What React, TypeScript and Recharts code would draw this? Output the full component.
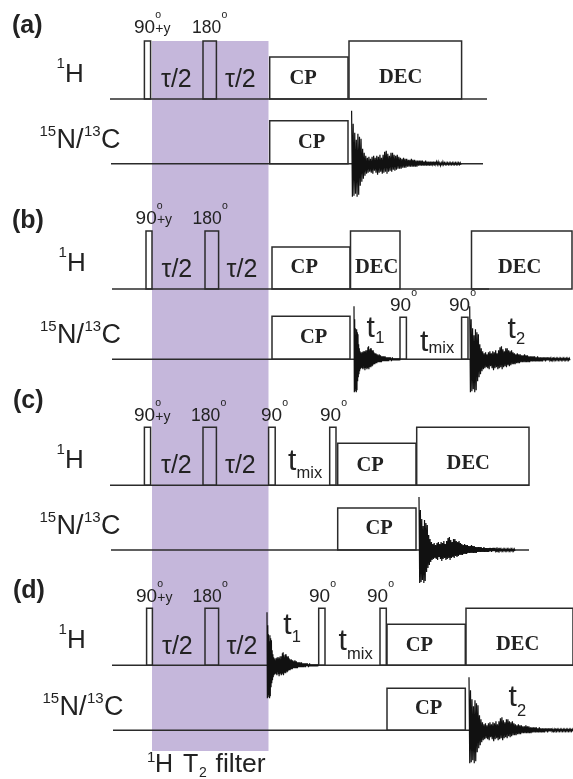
import React from 'react';
import { ComposedChart, Line, ReferenceArea, XAxis, YAxis } from 'recharts';

const WIDTH = 573;
const HEIGHT = 779;
const INK = '#2b2b2b';
const SANS = '"Liberation Sans", Arial, sans-serif';
const SERIF = '"Liberation Serif", "Times New Roman", serif';

// rows: (a) (b) (c) (d)
const panelLabels = ['(a)', '(b)', '(c)', '(d)'];
const hBaselines = [99, 289, 485.3, 665.3];
const nBaselines = [163.7, 359.3, 550, 730.3];
const hExtents = [[110, 487], [112, 489], [110, 529], [112, 573]];
const nExtents = [[111, 483], [112, 570], [111, 529], [113, 573]];

// [start, end, power]
const hPulses = [
  [[144.4, 150.6, 58], [203, 216.4, 58], [269.7, 348, 42], [349, 461.6, 58]],
  [[146, 152, 58], [205, 218.6, 58], [272, 350, 42], [350.5, 400, 58], [471.5, 572, 58]],
  [[144.4, 150.6, 58], [203, 216.4, 58], [268.6, 275.2, 58], [329.7, 336, 58], [337.7, 416, 42], [416.7, 529, 58]],
  [[146.6, 152.4, 57], [205, 218.6, 57], [318.7, 325, 57], [380, 386.3, 57], [387, 465.3, 41], [466, 573, 57]],
];
const nPulses = [
  [[269.7, 348, 43]],
  [[272, 350, 43], [400, 406.4, 42], [461.6, 468, 42]],
  [[337.7, 416, 42]],
  [[387, 465.3, 42]],
];

// filter window
const filterStart = 152;
const filterEnd = 268.5;
const filterTop = 41;
const filterBottom = 751;

// decay signal (a), deflection from the baseline
const fidSamples = [
  53, -33, 40, -32, 31, -30, 24, -33, 30, -31, 27, -22, 25, -18, 15, -15, 11, -12, 8, -10,
  6, -9, 7, -8, 5, -9, 7, -10, 8, -7, 6, -9, 8, -11, 7, -9, 9, -8, 6, -10,
  9, -9, 12, -8, 13, -10, 10, -8, 8, -7, 11, -8, 11, -6, 9, -7, 8, -6, 9, -5,
  7, -5, 6, -5, 5, -4, 6, -4, 5, -4, 5, -3, 4, -3, 4, -3, 5, -3, 4, -3,
  4, -3, 3, -3, 3, -2, 3, -2, 3, -2, 3, -2, 2, -2, 3, -2, 2, -2, 2, -2,
  2, -2, 2, -1, 2, -2, 2, -1, 2, -1, 2, -1, 1, -2, 1, -1, 2, -1, 1, -1,
  1, -1, 1, -1, 1, -1, 1, -1, 1, -1, 1, -1, 1, -1, 1, -1, 1, -1, 1, -1,
];

// [start, end, baseline]
const fidTraces = [
  [351.6, 461, 163.7],
  [354, 400, 359.3],
  [469.7, 570, 359.3],
  [419, 515, 550],
  [267, 318, 665.3],
  [469, 573, 730.3],
];

const tauLabels = [
  [161, 225, 87], [161.5, 226.6, 276.7], [161, 225, 473], [162, 226.6, 653.7],
];
// [text, x, baseline, phase x]
const flipLabels: [string, number, number, number?][] = [
  ['90', 134, 33, 155.3], ['180', 192, 33],
  ['90', 135.6, 224, 156.9], ['180', 192.6, 224], ['90', 390, 310.7], ['90', 449, 310.7],
  ['90', 134, 421, 155.3], ['180', 191, 421], ['90', 261, 421], ['90', 320, 421],
  ['90', 136, 601.7, 157.3], ['180', 192.6, 601.7], ['90', 309, 601.7], ['90', 367, 601.7],
];
const blockLabels = [
  ['CP', 289.5, 84], ['DEC', 379, 83], ['CP', 298, 148],
  ['CP', 290.6, 273], ['DEC', 355, 272.7], ['DEC', 498, 272.7], ['CP', 300, 343],
  ['CP', 356.4, 471], ['DEC', 446.6, 469], ['CP', 365.5, 534],
  ['CP', 405.7, 651], ['DEC', 496, 650], ['CP', 415, 714],
];
const hLabelPos = [[56.6, 81.7], [58.5, 270.7], [56.6, 467.7], [58.5, 647.7]];
const nLabelPos = [[39.5, 148], [40, 343.3], [39.5, 534], [42.4, 715]];
const panelLabelPos = [[12, 33], [12, 228], [13, 408], [13, 598]];
// [main x, main baseline, sub text, sub x, sub baseline]
const delayLabels: [number, number, string, number, number][] = [
  [366.6, 337, '1', 375.2, 343],
  [420, 350.7, 'mix', 428.6, 353],
  [507.5, 338, '2', 516.1, 344],
  [288, 470, 'mix', 296.6, 478],
  [283.2, 634.3, '1', 291.8, 641.7],
  [338.5, 650, 'mix', 347.1, 659],
  [508.5, 706, '2', 517.1, 715.7],
];

const fidLine = ([start, end, base]: number[]) =>
  fidSamples.map((v, i) => ({ x: start + (i * (end - start)) / (fidSamples.length - 1), y: base - v }));

const pulseBoxes = (pulses: number[][][], baselines: number[], prefix: string) =>
  pulses.flatMap((row, r) =>
    row.map(([start, end, power], i) => (
      <ReferenceArea
        key={`${prefix}-${r}-${i}`}
        x1={start}
        x2={end}
        y1={baselines[r] - power}
        y2={baselines[r]}
        fill="none"
        fillOpacity={0}
        stroke={INK}
        strokeWidth={1.5}
      />
    ))
  );

const channelLines = (extents: number[][], baselines: number[], prefix: string) =>
  extents.map(([from, to], r) => (
    <Line
      key={`${prefix}-${r}`}
      data={[{ x: from, y: baselines[r] }, { x: to, y: baselines[r] }]}
      dataKey="y"
      stroke={INK}
      strokeWidth={1.5}
      dot={false}
      activeDot={false}
      legendType="none"
      isAnimationActive={false}
    />
  ));

const Annotations = () => (
  <g fill="#222" fontFamily={SANS}>
    {panelLabels.map((t, i) => (
      <text key={t} x={panelLabelPos[i][0]} y={panelLabelPos[i][1]} fontSize={25} fontWeight="bold">{t}</text>
    ))}
    {hLabelPos.map(([x, y], i) => (
      <text key={`h${i}`} x={x} y={y - 14} fontSize={15}>
        1<tspan x={x + 8.5} y={y} fontSize={26}>H</tspan>
      </text>
    ))}
    {nLabelPos.map(([x, y], i) => (
      <text key={`n${i}`} x={x} y={y - 12} fontSize={15}>
        15
        <tspan x={x + 17} y={y} fontSize={27}>N/</tspan>
        <tspan x={x + 44.5} y={y - 12}>13</tspan>
        <tspan x={x + 61.5} y={y} fontSize={27}>C</tspan>
      </text>
    ))}
    {flipLabels.map(([t, x, y, phaseX], i) => (
      <text key={`f${i}`} x={x} y={y} fontSize={t === '90' ? 19 : 17.5}>
        {t}
        <tspan x={x + (t === '90' ? 21.2 : 29.4)} y={y - 15} fontSize={10.5}>o</tspan>
        {phaseX !== undefined && <tspan x={phaseX} y={y} fontSize={14}>+y</tspan>}
      </text>
    ))}
    {tauLabels.map(([a, b, y], i) => (
      <g key={`t${i}`} fontSize={25}>
        <text x={a} y={y}>τ/2</text>
        <text x={b} y={y}>τ/2</text>
      </g>
    ))}
    {blockLabels.map(([t, x, y], i) => (
      <text key={`b${i}`} x={x} y={y} fontSize={20.5} fontWeight="bold" fontFamily={SERIF}>{t}</text>
    ))}
    {delayLabels.map(([x, y, sub, sx, sy], i) => (
      <text key={`d${i}`} x={x} y={y} fontSize={30}>
        t<tspan x={sx} y={sy} fontSize={16.5}>{sub}</tspan>
      </text>
    ))}
    <text x={147} y={762} fontSize={15}>
      1
      <tspan x={155} y={772} fontSize={25}>H</tspan>
      <tspan x={183} y={772} fontSize={25}>T</tspan>
      <tspan x={199} y={777} fontSize={14}>2</tspan>
      <tspan x={215.6} y={772} fontSize={26.5}>filter</tspan>
    </text>
  </g>
);

export default function App() {
  return (
    <div style={{ position: 'absolute', left: 0, top: 0, width: WIDTH, height: HEIGHT, background: '#fff', filter: 'blur(0.4px)' }}>
      <ComposedChart width={WIDTH} height={HEIGHT} margin={{ top: 0, right: 0, bottom: 0, left: 0 }}>
        <XAxis type="number" dataKey="x" domain={[0, WIDTH]} hide allowDataOverflow />
        <YAxis type="number" domain={[0, HEIGHT]} reversed hide allowDataOverflow />
        <ReferenceArea
          x1={filterStart}
          x2={filterEnd}
          y1={filterTop}
          y2={filterBottom}
          fill="#C5B7DB"
          fillOpacity={1}
          stroke="none"
          zIndex={-1}
        />
        {channelLines(hExtents, hBaselines, 'h')}
        {channelLines(nExtents, nBaselines, 'n')}
        {pulseBoxes(hPulses, hBaselines, 'hp')}
        {pulseBoxes(nPulses, nBaselines, 'np')}
        {fidTraces.map((trace, i) => (
          <Line
            key={`fid-${i}`}
            data={fidLine(trace)}
            dataKey="y"
            stroke="#111"
            strokeWidth={1.2}
            dot={false}
            activeDot={false}
            legendType="none"
            isAnimationActive={false}
          />
        ))}
        <Annotations />
      </ComposedChart>
    </div>
  );
}
